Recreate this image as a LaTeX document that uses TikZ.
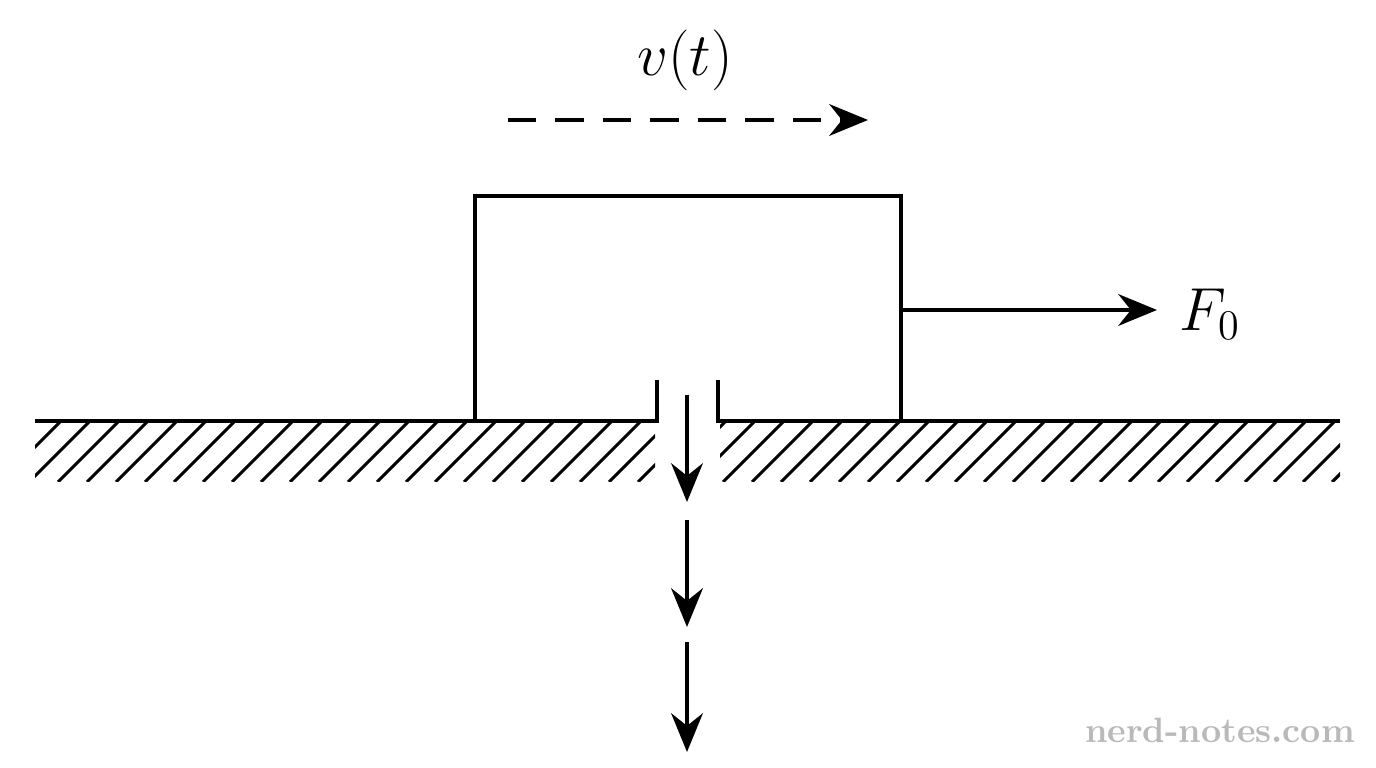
\documentclass[tikz,border=0pt]{standalone}
\usepackage{tikz}
\usetikzlibrary{arrows.meta}
\usetikzlibrary{positioning}

\begin{document}
\begin{tikzpicture}[x=0.01cm, y=-0.01cm,
        line width=1.2pt,
        vec/.style={-{Stealth[length=11pt, width=9pt]}},
    ]
        \useasboundingbox (0,0) rectangle (1376,768);

        % ground with slot
        \draw (35,421) -- (657,421) -- (657,380);
        \draw (718,380) -- (718,421) -- (1340,421);
        \begin{scope}[line width=0.9pt]
            \clip (35,421) rectangle (655,482);
            \foreach \x in {0,29,...,700} {
                \draw (\x,482) -- ++(61,-61);
            }
        \end{scope}
        \begin{scope}[line width=0.9pt]
            \clip (720,421) rectangle (1340,482);
            \foreach \x in {665,694,...,1400} {
                \draw (\x,482) -- ++(61,-61);
            }
        \end{scope}

        % block
        \coordinate (bl) at(475,421);
        \coordinate (tl) at(475,196);
        \coordinate (tr) at(901,196);
        \coordinate (br) at(901,421);
        \draw (bl) -- (tl) -- (tr) -- (br);

        % applied force
        \coordinate (fstart) at(901,310);
        \node (force) at(1210,314) [font=\LARGE, anchor=center] {$F_0$};
        \coordinate (fend) at(1157,310);
        \draw[vec] (fstart) -- (fend);

        % velocity
        \node (vel) at(685,60) [font=\LARGE] {$v(t)$};
        \coordinate (vstart) at(508,120);
        \coordinate (vend) at(868,120);
        \draw[vec, dash pattern=on 8pt off 5.5pt] (vstart) -- (vend);

        % flow through slot
        \coordinate (a1) at(687,395);
        \coordinate (a2) at(687,502);
        \coordinate (b1) at(687,520);
        \coordinate (b2) at(687,627);
        \coordinate (c1) at(687,642);
        \coordinate (c2) at(687,752);
        \draw[vec] (a1) -- (a2);
        \draw[vec] (b1) -- (b2);
        \draw[vec] (c1) -- (c2);

        % watermark
        \node (mark) at(1220,730) [text=gray!55, font=\normalsize\bfseries] {nerd-notes.com};
    \end{tikzpicture}
\end{document}
